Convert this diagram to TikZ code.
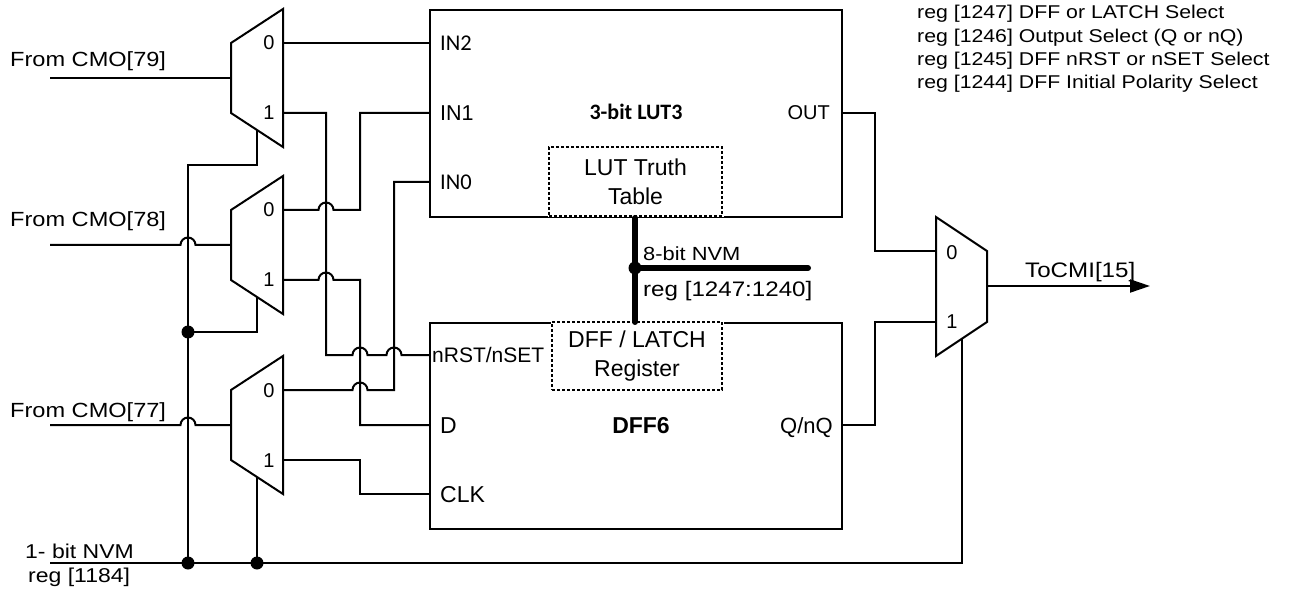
\documentclass[tikz,border=0pt]{standalone}
\usepackage{fontspec}
\setmainfont{Liberation Sans}
\newfontfamily\widefont{Liberation Sans}[FakeStretch=1.15]
\newfontfamily\calfont{Carlito}
\usetikzlibrary{arrows.meta}
\newcommand{\fsz}[2]{\fontsize{#1}{#2}\selectfont}

\tikzset{
  wire/.style={line width=2pt},
  block/.style={draw, line width=2pt, inner sep=0pt},
  regbox/.style={draw, line width=2pt, dash pattern=on 3pt off 2pt,
    preaction={draw=white, solid, line width=3pt},
    align=center, inner sep=0pt, font=\fsz{23}{29}},
  nvmbus/.style={line width=6pt, line cap=round},
  jdot/.style={circle, fill, inner sep=0pt, minimum size=13pt},
  lbl/.style={inner sep=0pt, anchor=base west},
  muxnum/.style={inner sep=0pt, anchor=base, font=\fsz{20}{22}},
}

\begin{document}
\begin{tikzpicture}[x=1pt, y=-1pt]
\useasboundingbox (0,0) rectangle (1299,596);

% LUT3 block
\node[block, anchor=north west, minimum width=412pt, minimum height=207pt] (lut) at (429,9) {};
\node[regbox, minimum width=173pt, minimum height=69pt] (truth) at (635.5,181.5) {LUT Truth\\Table};
\node[anchor=base, inner sep=0pt, font=\calfont\bfseries\fsz{22}{24}] (lutname) at (636,120) {3-bit LUT3};
\node[lbl, font=\calfont\fsz{22.5}{24}] (in2) at (440,50.5) {IN2};
\node[lbl, font=\fsz{21.5}{24}] (in1) at (440,120.5) {IN1};
\node[lbl, font=\calfont\fsz{22.5}{24}] (in0) at (440,189.5) {IN0};
\node[lbl, anchor=base east, font=\fsz{20}{24}] (out) at (830,120) {OUT};

% DFF block
\node[block, anchor=north west, minimum width=412pt, minimum height=206pt] (dff) at (429,322) {};
\node[regbox, minimum width=170pt, minimum height=68pt] (reg) at (637,356) {DFF / LATCH\\Register};
\node[anchor=base, inner sep=0pt, font=\bfseries\fsz{23}{24}] (dffname) at (641,433) {DFF6};
\node[lbl, font=\fsz{21}{24}] (nrst) at (432,362) {nRST/nSET};
\node[lbl, font=\fsz{23}{24}] (d) at (440,433) {D};
\node[lbl, font=\fsz{23}{24}] (clk) at (440,502) {CLK};
\node[lbl, anchor=base east, font=\fsz{22}{24}] (q) at (833,433) {Q/nQ};

% block pins
\coordinate (p-in2) at (429,43);
\coordinate (p-in1) at (429,113);
\coordinate (p-in0) at (429,182);
\coordinate (p-nrst) at (429,355);
\coordinate (p-d) at (429,425);
\coordinate (p-clk) at (429,494);
\coordinate (p-out) at (841,113);
\coordinate (p-q) at (841,425);

% input muxes
\foreach \n/\y in {1/43, 2/210, 3/390}{
  \draw[wire] (231,\y) -- (283,\y-34) -- (283,\y+104) -- (231,\y+70) -- cycle;
  \node[muxnum] (mux\n-n0) at (269,\y+7) {0};
  \node[muxnum] (mux\n-n1) at (269,\y+77) {1};
  \coordinate (mux\n-0) at (283,\y);
  \coordinate (mux\n-1) at (283,\y+70);
  \coordinate (mux\n-in) at (231,\y+35);
  \coordinate (mux\n-sel) at (257,\y+87);
  \coordinate (src\n) at (50,\y+35);
}
\node[lbl, font=\widefont\fsz{20.5}{22}] (cmo79) at (10,67) {From CMO[79]};
\node[lbl, font=\widefont\fsz{20.5}{22}] (cmo78) at (10,227) {From CMO[78]};
\node[lbl, font=\widefont\fsz{20.5}{22}] (cmo77) at (10,417) {From CMO[77]};
\draw[wire] (src1) -- (mux1-in);
\draw[wire] (src2) -- (180.5,245) arc[start angle=180, end angle=0, radius=7.5pt] -- (mux2-in);
\draw[wire] (src3) -- (180.5,425) arc[start angle=180, end angle=0, radius=7.5pt] -- (mux3-in);

% select lines from 1-bit NVM
\coordinate (nvm1) at (50,563);
\coordinate (selA) at (188,563);
\coordinate (selB) at (257,563);
\coordinate (omux-sel) at (962,339);
\draw[wire] (mux1-sel) -- (257,165) -- (188,165) -- (selA);
\draw[wire] (mux2-sel) -- (257,332) -- (188,332);
\draw[wire] (mux3-sel) -- (selB);
\draw[wire] (nvm1) -- (962,563) -- (omux-sel);
\node[jdot] (j1) at (188,332) {};
\node[jdot] (j2) at (selA) {};
\node[jdot] (j3) at (selB) {};
\node[lbl, font=\widefont\fsz{20}{22}] (nvmlbl) at (25,558) {1- bit NVM};
\node[lbl, font=\widefont\fsz{20}{22}] (nvmreg) at (28,582) {reg [1184]};

% mux outputs to LUT3 and DFF6
\draw[wire] (mux1-0) -- (p-in2);
\draw[wire] (mux1-1) -- (326,113) -- (326,355) -- (352.5,355)
  arc[start angle=180, end angle=0, radius=7.5pt] -- (386.5,355)
  arc[start angle=180, end angle=0, radius=7.5pt] -- (p-nrst);
\draw[wire] (mux2-0) -- (318.5,210) arc[start angle=180, end angle=0, radius=7.5pt]
  -- (360,210) -- (360,113) -- (p-in1);
\draw[wire] (mux2-1) -- (318.5,280) arc[start angle=180, end angle=0, radius=7.5pt]
  -- (360,280) -- (360,425) -- (p-d);
\draw[wire] (mux3-0) -- (352.5,390) arc[start angle=180, end angle=0, radius=7.5pt]
  -- (394,390) -- (394,182) -- (p-in0);
\draw[wire] (mux3-1) -- (360,460) -- (360,494) -- (p-clk);

% output mux
\draw[wire] (936,217) -- (987,251) -- (987,322) -- (936,356) -- cycle;
\node[muxnum] (omux-n0) at (952,259) {0};
\node[muxnum] (omux-n1) at (952,328) {1};
\coordinate (omux-0) at (936,251);
\coordinate (omux-1) at (936,322);
\coordinate (omux-out) at (987,286);
\coordinate (cmi) at (1150,286);
\draw[wire] (p-out) -- (875,113) -- (875,251) -- (omux-0);
\draw[wire] (p-q) -- (875,425) -- (875,322) -- (omux-1);
\draw[wire, -{Triangle[length=20pt, width=13pt]}] (omux-out) -- (cmi);
\node[lbl, font=\widefont\fsz{21}{24}] (cmilbl) at (1025,278) {ToCMI[15]};

% 8-bit NVM bus
\coordinate (busj) at (635,268);
\coordinate (busend) at (808,268);
\draw[nvmbus] (busj |- lut.south) -- (busj |- dff.north);
\draw[nvmbus] (busj) -- (busend);
\node[jdot] (busdot) at (busj) {};
\node[lbl, font=\widefont\fsz{19}{22}] (bus8) at (643,261) {8-bit NVM};
\node[lbl, font=\widefont\fsz{21}{24}] (busreg) at (643,297) {reg [1247:1240]};

% register notes
\node[lbl, font=\widefont\fsz{18.5}{20}] (note1) at (917,19) {reg [1247] DFF or LATCH Select};
\node[lbl, font=\widefont\fsz{18.5}{20}] (note2) at (917,43) {reg [1246] Output Select (Q or nQ)};
\node[lbl, font=\widefont\fsz{18.5}{20}] (note3) at (917,66) {reg [1245] DFF nRST or nSET Select};
\node[lbl, font=\widefont\fsz{18.5}{20}] (note4) at (917,89) {reg [1244] DFF Initial Polarity Select};
\end{tikzpicture}
\end{document}
